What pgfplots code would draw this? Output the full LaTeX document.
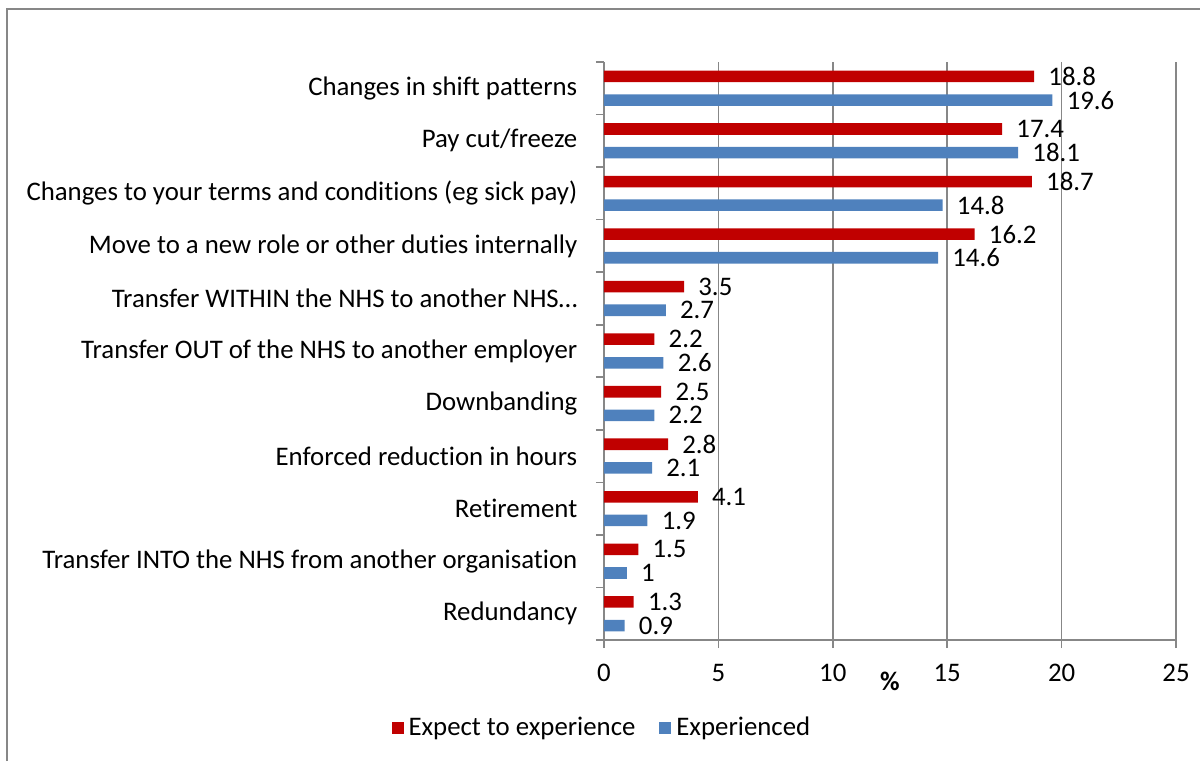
\documentclass[border=0pt]{standalone}
\usepackage{fontspec}
\setmainfont{Carlito}[Ligatures=NoCommon]
\usepackage{pgfplots}
\usepackage{pgfplotstable}
\pgfplotsset{compat=1.18}
\definecolor{cred}{HTML}{C00000}
\definecolor{cblue}{HTML}{4F81BD}
\definecolor{cgrid}{HTML}{878787}
\pgfplotstableread{
pos red blue
10 18.8 19.6
9 17.4 18.1
8 18.7 14.8
7 16.2 14.6
6 3.5 2.7
5 2.2 2.6
4 2.5 2.2
3 2.8 2.1
2 4.1 1.9
1 1.5 1
0 1.3 0.9
}\datatable
\newcommand{\fs}{\fontsize{13.4}{16}\selectfont}
\begin{document}
\fs
\begin{tikzpicture}
\useasboundingbox (0,0) rectangle (600pt,380.5pt);
\draw[cgrid, line width=1pt] (3.5pt,0) -- (3.5pt,376pt) -- (600pt,376pt);
\begin{axis}[
  at={(302pt,60.5pt)}, anchor=south west,
  scale only axis, width=286pt, height=289pt,
  xmin=0, xmax=25, ymin=-0.5, ymax=10.5,
  xbar,
  clip=false,
  /pgf/number format/assume math mode=true,
  font=\fs,
  xtick={0,5,...,25},
  ytick={-0.5,0.5,...,10.5},
  yticklabels={Redundancy,Transfer INTO the NHS from another organisation,Retirement,Enforced reduction in hours,Downbanding,Transfer OUT of the NHS to another employer,Transfer WITHIN the NHS to another NHS…,Move to a new role or other duties internally,Changes to your terms and conditions (eg sick pay),Pay cut/freeze,Changes in shift patterns,{}},
  yticklabel style={yshift=13.14pt, xshift=-4.7pt, font=\fs},
  xticklabel style={yshift=-3.6pt, font=\fs},
  axis x line*=bottom, axis y line*=left,
  axis line style={-, cgrid, line width=0.8pt},
  tick style={cgrid, line width=0.8pt},
  major tick length=4pt,
  tick align=outside,
  xmajorgrids,
  major grid style={cgrid, line width=0.8pt},
  xlabel={\textbf{\%}},
  xlabel style={at={(axis description cs:0.5,0)}, anchor=center, yshift=-20.5pt, font=\fs},
  point meta=x,
  nodes near coords,
  nodes near coords align={horizontal},
  every node near coord/.append style={text=black, xshift=2.5pt, font=\fs},
  legend style={at={(axis description cs:-0.002,-0.152)}, anchor=center, draw=none, fill=none, font=\fs,
    /tikz/every odd column/.append style={column sep=0.5pt},
    /tikz/every even column/.append style={column sep=10pt}},
  legend columns=2,
  legend image code/.code={\fill[#1, draw=none] (0pt,-3pt) rectangle (6pt,3pt);},
]
\addplot[xbar, bar width=0.22, bar shift=0.225, fill=cred, draw=none] table[x=red, y=pos] {\datatable};
\addplot[xbar, bar width=0.22, bar shift=-0.225, fill=cblue, draw=none] table[x=blue, y=pos] {\datatable};
\legend{Expect to experience, Experienced}
\end{axis}
\end{tikzpicture}
\end{document}
